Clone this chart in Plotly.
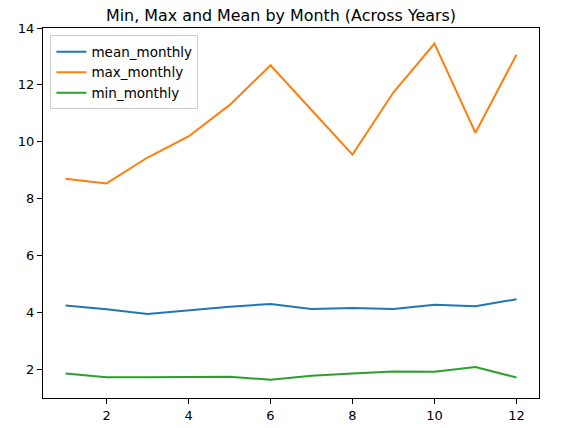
import plotly.graph_objects as go

# Monthly stats (across years)
months = list(range(1, 13))
mean_monthly = [4.25, 4.12, 3.95, 4.09, 4.21, 4.30, 4.13, 4.16, 4.13, 4.28, 4.22, 4.47]
max_monthly = [8.70, 8.54, 9.45, 10.19, 11.29, 12.69, 11.12, 9.55, 11.74, 13.45, 10.32, 13.06]
min_monthly = [1.86, 1.73, 1.73, 1.74, 1.75, 1.64, 1.78, 1.86, 1.93, 1.92, 2.09, 1.72]

fig = go.Figure()
fig.add_trace(go.Scatter(x=months, y=mean_monthly, mode="lines", name="mean_monthly",
                         line=dict(color="#1f77b4", width=2)))
fig.add_trace(go.Scatter(x=months, y=max_monthly, mode="lines", name="max_monthly",
                         line=dict(color="#ff7f0e", width=2)))
fig.add_trace(go.Scatter(x=months, y=min_monthly, mode="lines", name="min_monthly",
                         line=dict(color="#2ca02c", width=2)))

axis_style = dict(showline=True, mirror=True, linecolor="black", linewidth=1,
                  ticks="outside", ticklen=5, tickcolor="black", showgrid=False,
                  zeroline=False, automargin=False, tickfont=dict(size=13, color="black"))

fig.update_layout(
    width=562, height=428,
    margin=dict(l=43, r=23, t=28, b=30),
    paper_bgcolor="white", plot_bgcolor="white",
    font=dict(family="DejaVu Sans", color="black"),
    title=dict(text="Min, Max and Mean by Month (Across Years)", x=0.5, xanchor="center",
               y=0.965, yanchor="middle", font=dict(size=15.9)),
    xaxis=dict(range=[0.45, 12.55], tickvals=[2, 4, 6, 8, 10, 12], **axis_style),
    yaxis=dict(range=[1.0, 14.0], tickvals=[2, 4, 6, 8, 10, 12, 14], **axis_style),
    legend=dict(x=0.015, y=0.98, xanchor="left", yanchor="top",
                bgcolor="white", bordercolor="#cccccc", borderwidth=1,
                font=dict(size=13.5), tracegroupgap=0),
)

# drop the page's default body margin so the figure sits at the window corner
fig.write_html("out.html", config={"displayModeBar": False},
               post_script="document.body.style.margin='0';")
